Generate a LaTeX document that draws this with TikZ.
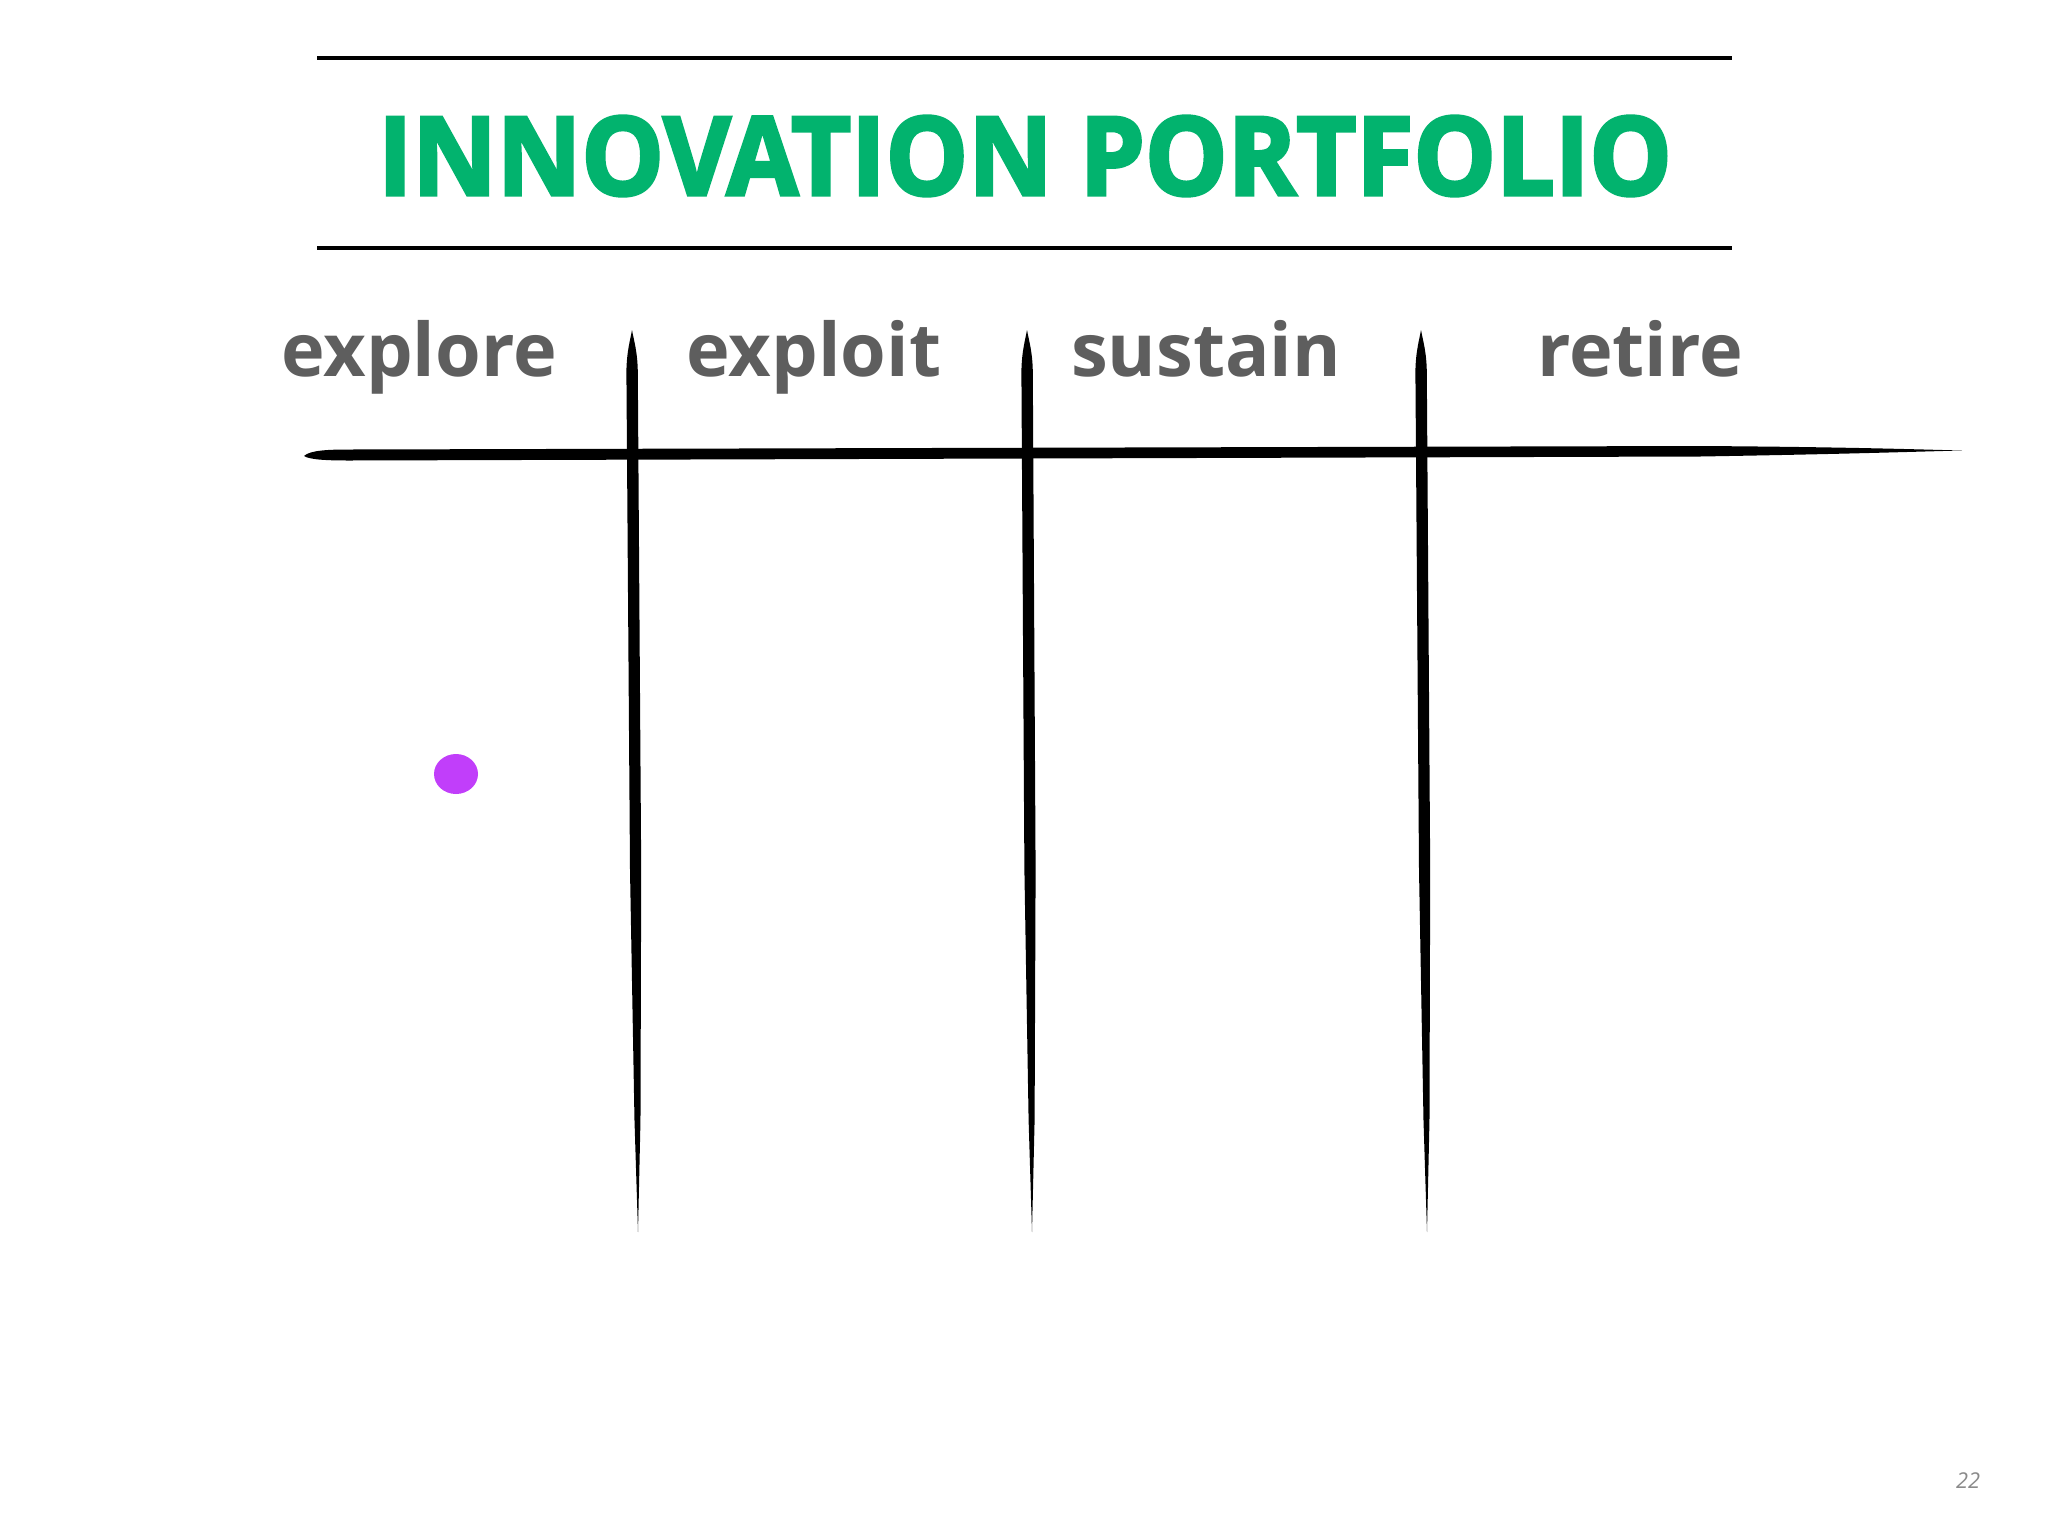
\documentclass[tikz,border=0pt]{standalone}
\usepackage{fontspec}
\setmainfont{Open Sans}
\newfontfamily\titlefont{Open Sans}[FakeBold=3]
\definecolor{titlegreen}{RGB}{2,179,110}
\definecolor{labelgray}{RGB}{94,94,94}
\definecolor{dotpurple}{RGB}{193,62,250}
\definecolor{pagegray}{RGB}{138,138,138}
\newcommand\vbrush[2]{%
  \fill[brush] (#1,330) .. controls ({#1+1.8},340) and ({#1+5.6},352) .. ({#1+5.8},372)
    -- ({#1+0.6*(#2-#1)+5.6},870) -- ({#1+0.88*(#2-#1)+3.2},1120) -- (#2,1232)
    -- ({#1+0.88*(#2-#1)-2.8},1120) -- ({#1+0.6*(#2-#1)-5.6},870)
    -- ({#1-5.6},372) .. controls ({#1-5.4},352) and ({#1-1.8},340) .. (#1,330) -- cycle;}
\begin{document}
\begin{tikzpicture}[x=0.01cm,y=-0.01cm,
  brush/.style={fill=black},
  rule/.style={line width=1.15pt,black},
  colhead/.style={font=\bfseries\fontsize{21}{24}\selectfont, text=labelgray, inner sep=0pt, anchor=base},
  titlestyle/.style={text=titlegreen, inner sep=0pt}]
\useasboundingbox[fill=white] (0,0) rectangle (2048,1536);
% title rules
\coordinate (t1a) at (317,58);
\coordinate (t1b) at (1732,58);
\coordinate (t2a) at (317,248);
\coordinate (t2b) at (1732,248);
\draw[rule] (t1a) -- (t1b);
\draw[rule] (t2a) -- (t2b);
% title
\node[titlestyle] (title) at (1025,156) {\resizebox{12.93cm}{0.79cm}{\titlefont\bfseries INNOVATION PORTFOLIO}};
% column headings
\node[colhead] (explore) at (419,376) {explore};
\node[colhead] (exploit) at (814,376) {exploit};
\node[colhead] (sustain) at (1206,376) {sustain};
\node[colhead] (retire) at (1640,376) {retire};
% horizontal brush stroke
\fill[brush] (304,456) .. controls (310,450) and (330,449.5) .. (350,449.5)
  -- (1700,446) .. controls (1850,447) and (1920,449.5) .. (1962,450.5)
  .. controls (1920,451.5) and (1850,454) .. (1700,456.5)
  -- (350,460.5) .. controls (330,460.5) and (310,460) .. (304,456) -- cycle;
% vertical brush strokes
\vbrush{632}{638}
\vbrush{1027}{1032}
\vbrush{1421}{1427}
% dot
\fill[dotpurple] (456,774) ellipse [x radius=22, y radius=20];
% page number
\node[font=\itshape\fontsize{6.2}{7}\selectfont, text=pagegray, inner sep=0pt] (page) at (1968,1481) {22};
\end{tikzpicture}
\end{document}
